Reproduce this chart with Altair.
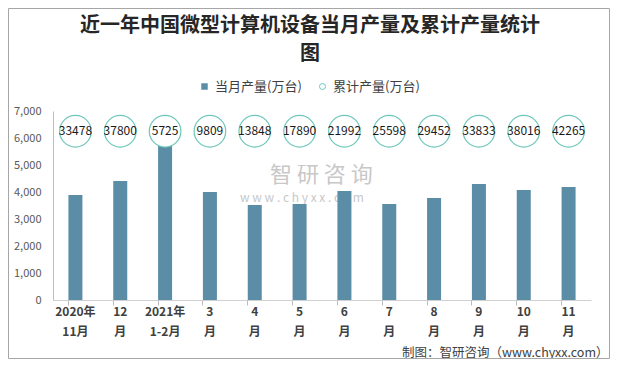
import altair as alt
import pandas as pd

line1 = ["2020年", "12", "2021年", "3", "4", "5", "6", "7", "8", "9", "10", "11"]
line2 = ["11月", "月", "1-2月", "月", "月", "月", "月", "月", "月", "月", "月", "月"]
monthly = [3890, 4410, 5725, 4000, 3520, 3560, 4040, 3560, 3780, 4300, 4075, 4185]
cumulative = [33478, 37800, 5725, 9809, 13848, 17890, 21992, 25598, 29452, 33833, 38016, 42265]
circle_level = 6250
series = ["当月产量(万台)", "累计产量(万台)"]

cats = [a + "|" + b for a, b in zip(line1, line2)]
df = pd.DataFrame({"cat": cats, "monthly": monthly, "cum": cumulative,
                   "s1": series[0], "s2": series[1], "lvl": circle_level})

FONT = "Noto Sans CJK SC"
BAR = "#5B8DA6"
TEAL = "#6CC7BA"

x_main = alt.X("cat:N", sort=cats, title=None,
               scale=alt.Scale(paddingInner=0.69, paddingOuter=0.345),
               axis=alt.Axis(labelExpr="split(datum.label, '|')", labelAngle=0,
                             labelFont=FONT, labelFontSize=12, labelFontWeight="bold",
                             labelColor="#404040", labelLineHeight=20, labelPadding=6,
                             ticks=False, domainColor="#D0D0D0", orient="bottom"))

y_axis = alt.Axis(values=list(range(0, 7001, 1000)), format=",.0f", grid=False,
                  ticks=False, labelFont=FONT, labelFontSize=11, title=None,
                  labelColor="#595959", labelPadding=12, domainColor="#BFBFBF")
y_scale = alt.Scale(domain=[0, 7000], nice=False)

x_plain = alt.X("cat:N", sort=cats, axis=None)

bars = alt.Chart(df).mark_bar(size=14).encode(
    x=x_main,
    y=alt.Y("monthly:Q", title=None, scale=y_scale, axis=y_axis),
    color=alt.Color("s1:N", scale=alt.Scale(range=[BAR]),
                    legend=alt.Legend(title=None, orient="none", legendX=145, legendY=-31,
                                      symbolType="square", symbolSize=42,
                                      labelFont=FONT, labelFontSize=13, labelColor="#404040")),
)

circles = alt.Chart(df).mark_point(shape="circle", size=1000, filled=False,
                                   fill="white", strokeWidth=1.2, opacity=1).encode(
    x=x_plain,
    y=alt.Y("lvl:Q", title=None, scale=y_scale, axis=y_axis),
    stroke=alt.Stroke("s2:N", scale=alt.Scale(range=[TEAL]),
                      legend=alt.Legend(title=None, orient="none", legendX=263, legendY=-31,
                                        symbolType="circle", symbolSize=36,
                                        symbolFillColor="white", symbolStrokeWidth=1,
                                        labelFont=FONT, labelFontSize=13, labelColor="#404040")),
)

labels = alt.Chart(df).mark_text(font=FONT, fontSize=12, color="#1a1a1a").encode(
    x=x_plain,
    y=alt.Y("lvl:Q", title=None, scale=y_scale, axis=y_axis),
    text=alt.Text("cum:Q", format="d"),
)

ticks_axis = alt.Chart(df).mark_point(opacity=0).encode(
    x=alt.X("cat:N", sort=cats, title="制图：智研咨询（www.chyxx.com）",
            axis=alt.Axis(orient="bottom", bandPosition=0, labels=False, domain=False,
                          ticks=True, tickSize=5, tickColor="#BDBDBD", tickWidth=1,
                          titleFont=FONT, titleFontSize=12.5, titleFontWeight="normal",
                          titleColor="#404040", titleAnchor="end", titleAlign="right",
                          titleX=555, titleY=52, titleBaseline="middle")),
    y=alt.Y("monthly:Q", title=None, scale=y_scale, axis=y_axis),
)

wm = pd.DataFrame({"t": ["智 研 咨 询"]})
watermark = alt.Chart(wm).mark_text(font=FONT, fontSize=22, color="#C8C8C8", align="left").encode(
    x=alt.value(217), y=alt.value(64), text="t:N")
wm2 = pd.DataFrame({"t": ["w  w  w  .  c  h  y  x  x  .  c  o  m"]})
watermark2 = alt.Chart(wm2).mark_text(font=FONT, fontSize=12, color="#C8C8C8", align="left").encode(
    x=alt.value(187), y=alt.value(87), text="t:N")

frame = alt.Chart(wm).mark_rect(fillOpacity=0, stroke="#A6A6A6", strokeWidth=1).encode(
    x=alt.value(-44.5), x2=alt.value(556.5), y=alt.value(-102.5), y2=alt.value(247.5))

chart = alt.layer(frame, watermark, watermark2, bars, circles, labels, ticks_axis).resolve_scale(
    color="independent", stroke="independent"
).resolve_axis(x="independent").properties(
    width=538, height=189,
    autosize=alt.AutoSizeParams(type="none"),
    padding={"left": 45, "top": 103, "right": 19, "bottom": 59},
    title=alt.TitleParams(
        text=["近一年中国微型计算机设备当月产量及累计产量统计", "图"],
        font=FONT, fontSize=20, fontWeight="bold", color="#262626",
        anchor="middle", lineHeight=28, offset=-56, dx=-12),
).configure_view(stroke=None)

chart.save("out.html", embed_options={"renderer": "svg", "actions": False})
